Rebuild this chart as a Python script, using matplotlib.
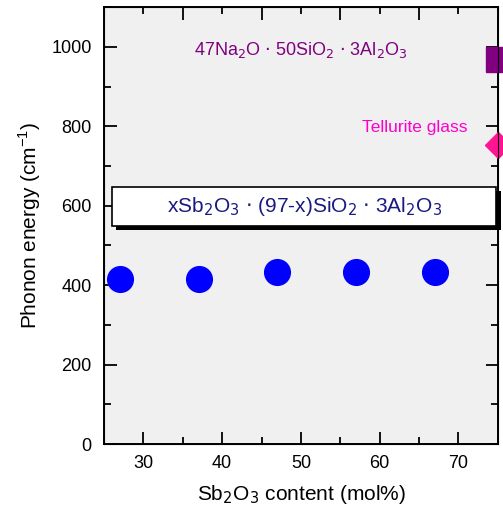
import matplotlib.pyplot as plt
from matplotlib.ticker import MultipleLocator
from matplotlib.patches import Rectangle

plt.rcParams['font.family'] = ['Liberation Sans', 'DejaVu Sans']

# Sb2O3 series
sb_content = [27, 37, 47, 57, 67]
phonon_energy = [415, 415, 434, 434, 434]

# reference glasses shown at the right edge
ref_x = [75, 75]
ref_y = [970, 753]
ref_labels = [r'47Na$_2$O $\cdot$ 50SiO$_2$ $\cdot$ 3Al$_2$O$_3$', 'Tellurite glass']

fig = plt.figure(figsize=(5.03, 5.09), dpi=100)
ax = fig.add_axes([0.2068, 0.1277, 0.783, 0.8583])
ax.set_facecolor('#f0f0f0')

ax.plot(sb_content, phonon_energy, 'o', color='#0000ff', markersize=18.5, zorder=3)
ax.plot(ref_x[0], ref_y[0], 's', color='#800080', markersize=18, clip_on=False, zorder=4)
ax.plot(ref_x[1], ref_y[1], 'D', color='#ff1493', markersize=13, clip_on=False, zorder=4)

ax.text(50, 992, ref_labels[0], color='#800080', fontsize=13, ha='center', va='center')
ax.text(64.4, 796, ref_labels[1], color='#ff00cc', fontsize=12.5, ha='center', va='center')

# composition box with drop shadow
ax.add_patch(Rectangle((26.5, 540), 48.9, 98, facecolor='black', edgecolor='none',
                       clip_on=False, zorder=2))
ax.add_patch(Rectangle((26.0, 548), 48.8, 98, facecolor='white', edgecolor='black',
                       linewidth=1.2, clip_on=False, zorder=2))
ax.text(50.4, 597, r'xSb$_2$O$_3$ $\cdot$ (97-x)SiO$_2$ $\cdot$ 3Al$_2$O$_3$',
        color='#1a1a80', fontsize=15, ha='center', va='center', zorder=3)

ax.set_xlim(25, 75)
ax.set_ylim(0, 1100)
ax.set_xticks([30, 40, 50, 60, 70])
ax.set_yticks([0, 200, 400, 600, 800, 1000])
ax.xaxis.set_minor_locator(MultipleLocator(5))
ax.yaxis.set_minor_locator(MultipleLocator(100))
ax.tick_params(which='both', direction='in', right=True, width=1.3, labelsize=13)
ax.tick_params(which='major', length=9)
ax.tick_params(which='minor', length=5)
ax.tick_params(axis='x', pad=8)
ax.tick_params(axis='y', pad=9)
for s in ax.spines.values():
    s.set_linewidth(1.4)

# top axis ticks are shifted by half a step in the original
top = ax.twiny()
top.set_xlim(25, 75)
top.set_xticks([35, 45, 55, 65])
top.set_xticks([30, 40, 50, 60, 70], minor=True)
top.tick_params(which='both', direction='in', width=1.3, labeltop=False)
top.tick_params(which='major', length=9)
top.tick_params(which='minor', length=5)

ax.set_xlabel(r'Sb$_2$O$_3$ content (mol%)', fontsize=15, labelpad=8)
ax.set_ylabel(r'Phonon energy (cm$^{\mathregular{-1}}$)', fontsize=15, labelpad=6)

plt.savefig('out.png', dpi=100)
